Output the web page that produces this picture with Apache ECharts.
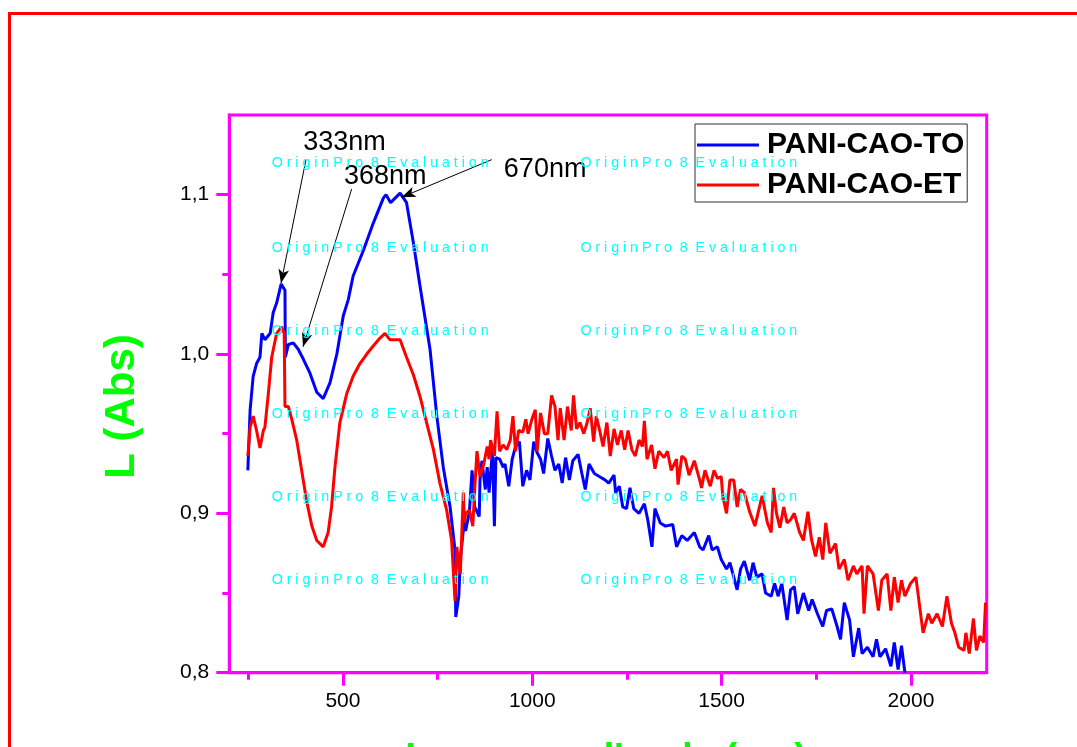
<!DOCTYPE html>
<html><head><meta charset="utf-8">
<script src="https://cdn.jsdelivr.net/npm/echarts@6/dist/echarts.min.js"></script>
<style>html,body{margin:0;padding:0;background:#fff}#chart{width:1077px;height:747px}</style>
</head><body><div id="chart"></div>
<script>
const seriesNames = ['PANI-CAO-TO', 'PANI-CAO-ET'];
const xMajorTicks = [500, 1000, 1500, 2000];
const xMinorTicks = [250, 750, 1250, 1750];
const yMajorTicks = [0.8, 0.9, 1.0, 1.1];
const yMinorTicks = [0.85, 0.95, 1.05];

// PANI-CAO-TO  [wavelength nm, absorbance]
const toSpectrum = [[249,0.927],[255,0.965],[263,0.986],[272,0.994],[281,0.998],[286,1.013],[294,1.009],[308,1.013],[316,1.026],[325,1.032],[337,1.044],[342,1.043],[347,1.040],[348,0.998],[356,1.006],[369,1.007],[382,1.003],[395,0.997],[413,0.988],[431,0.976],[448,0.972],[466,0.982],[484,1.000],[501,1.024],[514,1.034],[527,1.049],[554,1.065],[580,1.082],[607,1.098],[614,1.100],[626,1.095],[651,1.101],[668,1.095],[686,1.070],[704,1.042],[712,1.030],[730,1.003],[748,0.961],[765,0.929],[783,0.904],[796,0.877],[798,0.835],[806,0.848],[810,0.871],[820,0.894],[824,0.889],[834,0.901],[841,0.927],[848,0.904],[860,0.898],[862,0.921],[867,0.933],[876,0.915],[881,0.929],[886,0.913],[895,0.940],[900,0.892],[904,0.935],[914,0.934],[923,0.929],[928,0.931],[938,0.917],[947,0.934],[956,0.942],[966,0.945],[975,0.917],[985,0.927],[994,0.921],[1004,0.945],[1013,0.938],[1022,0.934],[1030,0.925],[1041,0.947],[1051,0.936],[1060,0.927],[1070,0.931],[1079,0.919],[1088,0.935],[1098,0.921],[1107,0.933],[1121,0.937],[1131,0.925],[1140,0.915],[1150,0.931],[1164,0.925],[1178,0.923],[1192,0.921],[1202,0.919],[1216,0.924],[1220,0.913],[1230,0.917],[1239,0.904],[1249,0.903],[1258,0.916],[1268,0.903],[1282,0.900],[1296,0.906],[1305,0.896],[1316,0.879],[1324,0.903],[1338,0.894],[1352,0.892],[1371,0.893],[1381,0.879],[1395,0.886],[1409,0.883],[1428,0.888],[1442,0.879],[1451,0.877],[1466,0.886],[1475,0.877],[1489,0.879],[1499,0.871],[1513,0.865],[1522,0.869],[1541,0.852],[1550,0.865],[1560,0.870],[1574,0.858],[1583,0.869],[1593,0.860],[1607,0.862],[1616,0.850],[1631,0.848],[1640,0.856],[1649,0.848],[1659,0.856],[1673,0.833],[1682,0.852],[1692,0.854],[1701,0.837],[1716,0.850],[1730,0.839],[1739,0.846],[1753,0.837],[1767,0.829],[1777,0.839],[1791,0.840],[1805,0.829],[1814,0.821],[1824,0.844],[1838,0.833],[1848,0.810],[1862,0.828],[1871,0.812],[1885,0.816],[1900,0.810],[1909,0.821],[1918,0.810],[1933,0.815],[1947,0.804],[1956,0.819],[1966,0.802],[1975,0.817],[1984,0.800]];

// PANI-CAO-ET  [wavelength nm, absorbance]
const etSpectrum = [[249,0.936],[255,0.954],[263,0.961],[272,0.952],[281,0.941],[290,0.952],[294,0.954],[303,0.975],[312,0.998],[325,1.013],[338,1.017],[345,1.013],[347,0.967],[356,0.967],[365,0.959],[378,0.946],[391,0.927],[404,0.908],[418,0.892],[431,0.883],[448,0.879],[461,0.888],[470,0.904],[479,0.929],[492,0.957],[510,0.975],[527,0.986],[545,0.994],[563,1.000],[580,1.005],[598,1.010],[611,1.013],[624,1.009],[638,1.009],[651,1.009],[668,0.998],[686,0.987],[704,0.973],[721,0.957],[739,0.940],[756,0.919],[774,0.902],[787,0.883],[796,0.845],[801,0.879],[806,0.867],[810,0.862],[818,0.913],[821,0.894],[824,0.900],[834,0.902],[843,0.892],[848,0.915],[854,0.939],[862,0.923],[872,0.931],[881,0.942],[886,0.934],[890,0.946],[900,0.936],[907,0.964],[914,0.939],[923,0.943],[933,0.940],[942,0.946],[949,0.961],[956,0.939],[964,0.952],[975,0.951],[983,0.959],[989,0.950],[999,0.959],[1008,0.965],[1013,0.939],[1022,0.963],[1032,0.950],[1041,0.950],[1051,0.974],[1060,0.967],[1068,0.946],[1074,0.966],[1084,0.946],[1093,0.967],[1103,0.952],[1109,0.974],[1117,0.953],[1126,0.957],[1136,0.950],[1145,0.957],[1153,0.966],[1162,0.945],[1169,0.961],[1178,0.952],[1187,0.942],[1197,0.957],[1206,0.936],[1216,0.953],[1225,0.943],[1235,0.952],[1244,0.940],[1253,0.952],[1263,0.940],[1272,0.936],[1282,0.946],[1291,0.942],[1296,0.958],[1303,0.934],[1315,0.943],[1324,0.928],[1334,0.939],[1348,0.935],[1357,0.939],[1367,0.927],[1381,0.934],[1385,0.918],[1395,0.936],[1404,0.934],[1414,0.924],[1428,0.933],[1442,0.921],[1447,0.916],[1456,0.927],[1470,0.917],[1480,0.927],[1489,0.922],[1499,0.923],[1503,0.911],[1513,0.900],[1522,0.921],[1532,0.921],[1541,0.904],[1550,0.915],[1560,0.913],[1574,0.901],[1588,0.892],[1598,0.902],[1607,0.911],[1621,0.894],[1631,0.888],[1637,0.916],[1645,0.900],[1654,0.891],[1664,0.904],[1673,0.894],[1682,0.896],[1692,0.900],[1706,0.888],[1716,0.883],[1728,0.901],[1737,0.884],[1748,0.873],[1758,0.885],[1767,0.871],[1775,0.894],[1786,0.875],[1801,0.881],[1810,0.865],[1824,0.871],[1834,0.858],[1848,0.867],[1857,0.862],[1871,0.867],[1876,0.837],[1885,0.867],[1900,0.862],[1914,0.839],[1923,0.858],[1937,0.862],[1947,0.839],[1956,0.860],[1966,0.844],[1975,0.858],[1984,0.848],[1999,0.856],[2013,0.860],[2032,0.825],[2046,0.837],[2055,0.831],[2069,0.837],[2083,0.829],[2095,0.848],[2107,0.831],[2116,0.825],[2126,0.816],[2140,0.814],[2145,0.825],[2154,0.812],[2165,0.834],[2173,0.814],[2182,0.823],[2192,0.819],[2197,0.844]];

// peak annotations (data coordinates)
const peakLabels = ['333nm', '368nm', '670nm'];
const peakLabelAt = [[395, 1.1325], [503, 1.1114], [925, 1.1156]];
const arrowFrom = [[402.5, 1.122], [523, 1.1035], [893, 1.122]];
const arrowTo = [[336.5, 1.0444], [394.6, 1.0045], [655, 1.0984]];

const FONT = '"Liberation Sans", Arial, Helvetica, sans-serif';
const MAG = '#FF00FF';
const gridRect = { left: 229.3, top: 115, right: 90.3, bottom: 74.3 };
const fmtComma = v => v.toFixed(1).replace('.', ',');
const fmtPlain = v => String(Math.round(v));

const chart = echarts.init(document.getElementById('chart'), null, { renderer: 'canvas' });

const option = {
  animation: false,
  backgroundColor: '#ffffff',
  grid: [
    Object.assign({ show: true, borderColor: MAG, borderWidth: 3, backgroundColor: 'transparent', containLabel: false }, gridRect),
    Object.assign({ show: false, containLabel: false }, gridRect)
  ],
  legend: {
    show: true, orient: 'vertical', left: 695, top: 124,
    data: seriesNames, icon: 'rect', itemWidth: 62, itemHeight: 3, itemGap: 10,
    padding: [6, 3, 2, 2], borderColor: '#333', borderWidth: 1,
    selectedMode: false,
    textStyle: { fontSize: 30, fontWeight: 'bold', color: '#000', fontFamily: FONT, padding: [0, 0, 0, 3] }
  },
  xAxis: [
    {
      gridIndex: 0, type: 'value', min: 200, max: 2200, position: 'bottom',
      axisLine: { onZero: false, lineStyle: { color: MAG, width: 3 } },
      axisTick: { show: true, inside: false, length: 13, lineStyle: { color: MAG, width: 3 }, customValues: xMajorTicks },
      axisLabel: { customValues: xMajorTicks, margin: 18, formatter: fmtPlain, color: '#000', fontSize: 21, fontFamily: FONT },
      splitLine: { show: false }
    },
    {
      gridIndex: 1, type: 'value', min: 200, max: 2200, position: 'bottom',
      axisLine: { show: false, onZero: false },
      axisTick: { show: true, inside: false, length: 7, lineStyle: { color: MAG, width: 3 }, customValues: xMinorTicks },
      axisLabel: { show: false }, splitLine: { show: false }
    }
  ],
  yAxis: [
    {
      gridIndex: 0, type: 'value', min: 0.8, max: 1.15, position: 'left',
      axisLine: { onZero: false, lineStyle: { color: MAG, width: 3 } },
      axisTick: { show: true, inside: false, length: 13, lineStyle: { color: MAG, width: 3 }, customValues: yMajorTicks },
      axisLabel: { customValues: yMajorTicks, margin: 20, formatter: fmtComma, color: '#000', fontSize: 21, fontFamily: FONT },
      splitLine: { show: false }
    },
    {
      gridIndex: 1, type: 'value', min: 0.8, max: 1.15, position: 'left',
      axisLine: { show: false, onZero: false },
      axisTick: { show: true, inside: false, length: 7, lineStyle: { color: MAG, width: 3 }, customValues: yMinorTicks },
      axisLabel: { show: false }, splitLine: { show: false }
    }
  ],
  series: [
    {
      name: seriesNames[0], type: 'line', xAxisIndex: 0, yAxisIndex: 0,
      data: toSpectrum, showSymbol: false, symbol: 'none',
      lineStyle: { color: '#0000FF', width: 3 }, itemStyle: { color: '#0000FF' },
      emphasis: { disabled: true },
      markLine: {
        silent: true, symbol: ['none', 'arrow'], symbolSize: [8, 14],
        label: { show: false }, emphasis: { disabled: true },
        lineStyle: { color: '#000', width: 1, type: 'solid' },
        data: arrowFrom.map((f, i) => [{ coord: f }, { coord: arrowTo[i] }])
      }
    },
    {
      name: seriesNames[1], type: 'line', xAxisIndex: 0, yAxisIndex: 0,
      data: etSpectrum, showSymbol: false, symbol: 'none',
      lineStyle: { color: '#FF0000', width: 3 }, itemStyle: { color: '#FF0000' },
      emphasis: { disabled: true }
    }
  ]
};
chart.setOption(option);

// overlay texts
const graphics = [];
graphics.push({
  type: 'rect', z: 0, silent: true,
  shape: { x: 9.5, y: 13.5, width: 1200, height: 900 },
  style: { fill: 'none', stroke: '#FF0000', lineWidth: 3 }
});
peakLabels.forEach((t, i) => {
  const p = chart.convertToPixel({ gridIndex: 0 }, peakLabelAt[i]);
  graphics.push({
    type: 'text', z: 50, silent: true, x: p[0], y: p[1],
    style: { text: t, fill: '#000', font: '27px ' + FONT, align: 'left', verticalAlign: 'middle' }
  });
});
graphics.push({
  type: 'text', z: 50, silent: true, x: 122.5, y: 406.5, rotation: Math.PI / 2,
  style: { text: 'L (Abs)', fill: '#00FF00', font: 'bold 42px ' + FONT, align: 'center', verticalAlign: 'middle' }
});
graphics.push({
  type: 'text', z: 50, silent: true, x: 606, y: 760,
  style: { text: "Longueur d'onde (nm)", fill: '#00FF00', font: 'bold 38px ' + FONT, align: 'center', verticalAlign: 'middle' }
});
const wmRows = [163.3, 247.7, 331, 414, 497, 580];
const wmCols = [271.7, 580.4];
wmRows.forEach(y => wmCols.forEach(x => {
  graphics.push({
    type: 'text', z: 60, silent: true, x: x, y: y,
    style: { text: 'O r i g i n P r o  8  E v a l u a t i o n', fill: '#00FFFF', font: '14.2px ' + FONT, align: 'left', verticalAlign: 'middle' }
  });
}));
chart.setOption({ graphic: graphics });
</script>
</body></html>
